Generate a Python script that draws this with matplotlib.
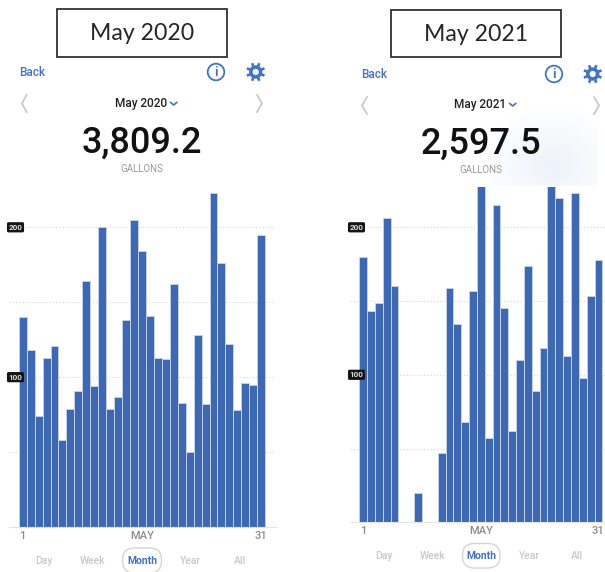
import numpy as np
import matplotlib
matplotlib.use('Agg')
import matplotlib.pyplot as plt
from matplotlib.patches import Rectangle, FancyBboxPatch, Circle, Polygon

W, H = 605, 572
BLUE = '#3f68b2'
LINK = '#4472c4'

days = list(range(1, 32))
gallons_2020 = [140, 118, 74, 113, 121, 58, 79, 91, 164, 94, 200, 79, 87, 138, 205, 184,
                141, 113, 112, 162, 83, 50, 128, 82, 223, 176, 122, 78, 96, 95, 195]
gallons_2021 = [180, 143.5, 149, 206.5, 160, 0.5, 0.5, 20, 0.5, 0.5, 47, 159, 134.5, 68, 157, 228,
                57, 215, 145.5, 62, 110, 174, 89, 118.5, 228, 220, 113, 223, 97.5, 153.5, 178]
titles = ['May 2020', 'May 2021']
totals = ['3,809.2', '2,597.5']
unit = 'GALLONS'
tick_days = [1, 16, 31]
tick_names = ['1', 'MAY', '31']
grid_values = [50, 100, 150, 200]
tabs = ['Day', 'Week', 'Month', 'Year', 'All']

plt.rcParams['font.family'] = ['Roboto', 'DejaVu Sans']

fig = plt.figure(figsize=(W / 100, H / 100), dpi=100)
fig.patch.set_facecolor('white')

# full figure axes in pixels for the app chrome
ui = fig.add_axes([0, 0, 1, 1], zorder=0)
ui.set_xlim(0, W)
ui.set_ylim(H, 0)
ui.axis('off')


def draw_chart(values, left, right, bar_left, bar_w, base_y, y200, top_y, lab_x):
    ax = fig.add_axes([left / W, 1 - base_y / H, (right - left) / W, (base_y - top_y) / H], zorder=2)
    ax.patch.set_alpha(0)
    px = (base_y - y200) / 200
    ax.set_ylim(0, (base_y - top_y) / px)
    x0 = 0.5 - (bar_left - left) / bar_w
    ax.set_xlim(x0, x0 + (right - left) / bar_w)
    ax.bar(days, values, width=1, color=BLUE, edgecolor='#c3d0e8', linewidth=0.7)
    ax.set_axisbelow(True)
    ax.set_yticks(grid_values)
    ax.set_yticklabels([])
    ax.grid(axis='y', color='#d4d4d4', linestyle=(0, (1, 2)), linewidth=0.8)
    ax.tick_params(axis='y', length=0)
    ax.tick_params(axis='x', length=0, pad=3, labelsize=8, labelcolor='#8c8c8c')
    ax.set_xticks(tick_days)
    ax.set_xticklabels(tick_names, fontweight='medium')
    for s in ['top', 'left', 'right']:
        ax.spines[s].set_visible(False)
    ax.spines['bottom'].set_color('#e4e4e4')
    for v in [100, 200]:
        ax.text((lab_x - left) / (right - left), v, str(v), transform=ax.get_yaxis_transform(),
                ha='center', va='center', color='#dddddd', fontsize=5.8, fontweight='bold', clip_on=False,
                bbox=dict(boxstyle='round,pad=0.2,rounding_size=0.2', fc='#151515', ec='none'))
    return ax


def draw_gear(x, y):
    # eight teeth, each tooth a step between body and outer radius
    ang = np.arange(0, 360, 45)
    pts = []
    for a in ang:
        for da, r in [(-22.5, 6.6), (-11, 6.8), (-8, 9.6), (8, 9.6), (11, 6.8)]:
            t = np.radians(a + da + 22.5)
            pts.append((x + r * np.cos(t), y + r * np.sin(t)))
    ui.add_patch(Polygon(pts, closed=True, fc=LINK, ec='none'))
    ui.add_patch(Circle((x, y), 3.1, fc='white', ec='none'))


def draw_header(cx, title, total, box, y_off, back_x, chev, gear_x, info_x):
    ui.add_patch(Rectangle((box[0], box[1]), box[2] - box[0], box[3] - box[1], fc='white', ec='#333333', lw=1.3))
    ui.text((box[0] + box[2]) / 2, (box[1] + box[3]) / 2 + 1, title, ha='center', va='center',
            fontsize=16.6, color='#262626', family=['Lato', 'DejaVu Sans'])
    ui.text(back_x, 72 + y_off, 'Back', ha='left', va='center', fontsize=8.5, color=LINK, fontweight='medium')
    ui.add_patch(Circle((info_x, 72 + y_off), 8.3, fc='none', ec=LINK, lw=1.3))
    ui.text(info_x, 72.3 + y_off, 'i', ha='center', va='center', fontsize=9.5, color=LINK, fontweight='bold')
    draw_gear(gear_x, 72 + y_off)
    # month selector
    for xa, xb in chev:
        ui.plot([xb, xa, xb], [95 + y_off, 103.5 + y_off, 112 + y_off], color='#c9c9c9', lw=1.3)
    ui.text(cx - 1, 103.5 + y_off / 2, title, ha='center', va='center', fontsize=8.5, color='#222222', fontweight='medium')
    ui.plot([cx + 29, cx + 32, cx + 35], [102.5 + y_off / 2, 105 + y_off / 2, 102.5 + y_off / 2], color=LINK, lw=1.2)
    ui.text(cx, 143 + y_off / 2, total, ha='center', va='center', fontsize=26, color='#111111', fontweight='medium')
    ui.text(cx, 169.5 + y_off / 4, unit, ha='center', va='center', fontsize=7, color='#999999')


def draw_tabs(xs, y, pill):
    ui.add_patch(FancyBboxPatch((pill[0] + 12, pill[1] + 12), pill[2] - pill[0] - 24, pill[3] - pill[1] - 24,
                                boxstyle='round,pad=12,rounding_size=12', fc='white', ec='#d5d5d5', lw=1))
    for name, x in zip(tabs, xs):
        active = name == 'Month'
        ui.text(x, y, name, ha='center', va='center', fontsize=7.5,
                color=LINK if active else '#c8c8c8', fontweight='bold' if active else 'medium')


# soft light patch from the screenshot, behind the second chart
yy, xx = np.mgrid[100:186, 440:598]
d = np.sqrt(((xx - 552) / 72.0) ** 2 + ((yy - 165) / 62.0) ** 2)
glow = np.zeros(d.shape + (4,))
glow[..., :3] = matplotlib.colors.to_rgb('#e3ecf8')
glow[..., 3] = np.clip(1 - d, 0, 1) * 0.65
ui.imshow(glow, extent=(440, 598, 186, 100), aspect='auto', zorder=0.5, interpolation='bilinear')
ui.set_xlim(0, W)
ui.set_ylim(H, 0)

draw_header(141.7, titles[0], totals[0], (56.7, 9, 227, 57), 0, 19, [(22, 26.5), (262, 257)], 255.7, 216)
draw_header(480.7, titles[1], totals[1], (391.3, 10, 561.3, 57.3), 2, 360.7, [(362, 367), (599, 594)], 592.7, 554)

draw_chart(gallons_2020, 9, 276, 18.7, 7.95, 527, 227.3, 185, 15.5)
draw_chart(gallons_2021, 350, 605, 359.3, 7.84, 522.3, 227.3, 186.5, 356.5)

draw_tabs([43.7, 92.7, 142, 190.7, 239.7], 561, (122.5, 548, 161.5, 573))
draw_tabs([384, 432.7, 481, 529, 577], 556, (462.5, 543.5, 500, 568))

fig.savefig('out.png', dpi=100)
